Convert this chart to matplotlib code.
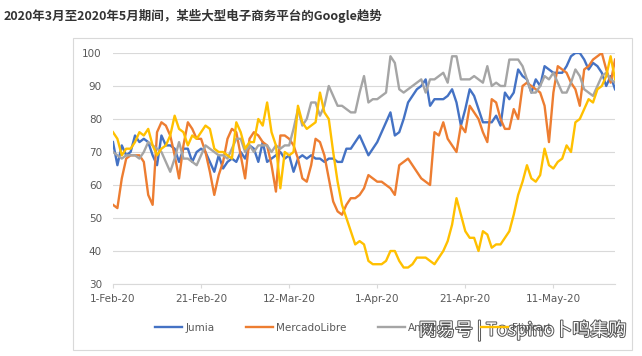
import matplotlib
matplotlib.use("Agg")
import matplotlib.pyplot as plt
import matplotlib.patheffects as pe
from matplotlib.patches import Rectangle
import pandas as pd

plt.rcParams['font.family'] = ['DejaVu Sans', 'Noto Sans CJK SC']

# daily Google trend values, 1-Feb-20 onwards
jumia = [73, 66, 72, 69, 70, 75, 73, 74, 73, 69,
         66, 75, 72, 72, 71, 67, 71, 71, 67, 70,
         71, 70, 67, 64, 69, 65, 67, 68, 67, 70,
         68, 72, 71, 67, 73, 67, 68, 69, 70, 68,
         69, 64, 68, 69, 68, 69, 68, 68, 67, 68,
         68, 67, 67, 71, 71, 73, 75, 72, 69, 71,
         73, 76, 79, 82, 75, 76, 80, 85, 87, 89,
         90, 92, 84, 86, 86, 86, 87, 89, 85, 78,
         83, 89, 87, 83, 79, 79, 79, 81, 78, 88,
         86, 88, 95, 93, 92, 88, 92, 90, 96, 95,
         94, 94, 94, 96, 99, 100, 100, 98, 95, 97,
         96, 94, 90, 93, 89]
mercadolibre = [54, 53, 62, 68, 69, 69, 69, 67, 57, 54,
                76, 79, 78, 75, 69, 62, 72, 79, 77, 74,
                74, 70, 64, 57, 63, 67, 74, 77, 76, 69,
                62, 74, 76, 75, 73, 72, 66, 58, 75, 75,
                74, 72, 68, 62, 61, 66, 74, 73, 69, 62,
                55, 52, 51, 54, 56, 56, 57, 59, 63, 62,
                61, 61, 60, 59, 57, 66, 67, 68, 66, 64,
                62, 61, 60, 76, 75, 79, 74, 72, 70, 78,
                76, 84, 82, 80, 76, 73, 86, 85, 80, 77,
                77, 83, 80, 90, 91, 90, 89, 88, 84, 73,
                88, 96, 95, 94, 91, 89, 84, 95, 96, 98,
                99, 100, 95, 91, 98]
amazon = [70, 69, 68, 69, 69, 69, 68, 70, 73, 72,
          71, 70, 67, 64, 68, 73, 68, 68, 67, 66,
          69, 72, 71, 70, 69, 69, 68, 71, 74, 74,
          70, 72, 70, 72, 72, 72, 70, 72, 71, 72,
          72, 77, 83, 78, 80, 85, 85, 81, 84, 90,
          87, 84, 84, 83, 82, 82, 88, 93, 85, 86,
          86, 87, 88, 99, 97, 89, 88, 89, 90, 91,
          92, 88, 92, 92, 93, 94, 91, 99, 99, 92,
          92, 92, 93, 92, 91, 96, 90, 91, 90, 90,
          98, 98, 98, 96, 92, 88, 88, 90, 93, 92,
          94, 91, 88, 88, 91, 95, 93, 89, 88, 87,
          90, 93, 94, 92, 91]
flipkart = [76, 74, 69, 71, 71, 73, 76, 75, 77, 72,
            69, 71, 72, 75, 81, 77, 76, 72, 75, 74,
            76, 78, 77, 71, 70, 70, 69, 68, 79, 76,
            71, 73, 73, 80, 78, 85, 76, 72, 59, 70,
            69, 70, 84, 79, 77, 78, 79, 88, 82, 80,
            70, 61, 54, 50, 46, 42, 43, 42, 37, 36,
            36, 36, 37, 40, 40, 37, 35, 35, 36, 38,
            38, 38, 37, 36, 38, 40, 43, 48, 56, 51,
            46, 44, 44, 40, 46, 45, 41, 42, 42, 44,
            46, 51, 57, 61, 66, 62, 61, 63, 71, 66,
            65, 67, 68, 72, 70, 79, 80, 83, 86, 85,
            89, 90, 93, 99, 92]

names = ['Jumia', 'MercadoLibre', 'Amazon', 'Flipkart']
colors = ['#4472C4', '#ED7D31', '#A5A5A5', '#FFC000']
dates = pd.date_range('2020-02-01', periods=len(jumia), freq='D')
tick_dates = pd.date_range('2020-02-01', periods=6, freq='20D')
title = '2020年3月至2020年5月期间，某些大型电子商务平台的Google趋势'

fig = plt.figure(figsize=(6.42, 3.56), dpi=100)
ax = fig.add_axes([0.176, 0.2022, 0.782, 0.649])

for name, vals, c in zip(names, [jumia, mercadolibre, amazon, flipkart], colors):
    ax.plot(dates, vals, color=c, lw=1.7, label=name, solid_joinstyle='round')

ax.set_ylim(30, 100)
ax.set_yticks(range(30, 101, 10))
ax.set_xlim(dates[0], dates[-1])
ax.set_xticks(tick_dates)
ax.set_xticklabels([f'{d.day}-{d.strftime("%b-%y")}' for d in tick_dates])
ax.grid(axis='y', color='#d9d9d9', lw=0.8)
ax.set_axisbelow(True)
for s in ['top', 'right', 'left']:
    ax.spines[s].set_visible(False)
ax.spines['bottom'].set_color('#d9d9d9')
ax.tick_params(axis='y', length=0, labelsize=7.5, labelcolor='#595959', pad=8)
ax.tick_params(axis='x', length=3, color='#d9d9d9', labelsize=7.5,
               labelcolor='#595959', pad=4)

fig.legend(loc='center', bbox_to_anchor=(0.55, 0.079), ncol=4, frameon=False,
           fontsize=7.5, labelcolor='#595959', handlelength=2.6, columnspacing=3.0,
           handletextpad=0.3)

fig.patches.append(Rectangle((73 / 642, 6 / 356), 559 / 642, 312 / 356,
                             transform=fig.transFigure, fill=False,
                             edgecolor='#d9d9d9', lw=0.8))

fig.text(0.005, 0.955, title, fontsize=9, fontweight='bold', color='#333333',
         family=['Noto Sans CJK SC', 'DejaVu Sans'], va='center')

# watermark over the legend, as in the source image
fig.text(0.975, 0.072, '网易号 | Tospino卜鸣集购', fontsize=13, color='white',
         family=['Noto Sans CJK SC', 'DejaVu Sans'], ha='right', va='center',
         path_effects=[pe.withStroke(linewidth=1.4, foreground='#555555')])

fig.savefig('out.png', dpi=100)
